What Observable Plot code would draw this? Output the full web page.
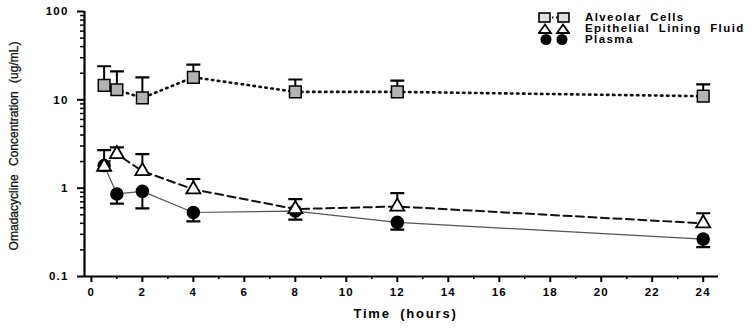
<!DOCTYPE html>
<html><head><meta charset="utf-8">
<script src="https://cdn.jsdelivr.net/npm/d3@7"></script>
<script src="https://cdn.jsdelivr.net/npm/@observablehq/plot@0.6"></script>
<style>
body{margin:0;background:#fff;}
#wrap{position:relative;width:755px;height:328px;font-family:"Liberation Sans",Arial,sans-serif;}
#legend{position:absolute;left:538px;top:12px;font-weight:bold;font-size:11.5px;letter-spacing:1.4px;word-spacing:4px;line-height:11px;}
#legend div{display:flex;align-items:center;height:11px;}
#legend svg{margin-right:15px;}
g[aria-label="y-axis tick label"] text, g[aria-label="x-axis tick label"] text{letter-spacing:1.2px;}
.ttl text{letter-spacing:1.8px;word-spacing:4px;}
.ylab text{word-spacing:5px;}
</style></head>
<body><div id="wrap"><div id="legend"></div></div>
<script>
const times = [0.5, 1, 2, 4, 8, 12, 24];
const alveolar = [14.6, 13, 10.5, 18, 12.3, 12.3, 11];
const alveolarUpper = [24, 21, 18, 25, 17, 16.5, 15];
const elf = [1.75, 2.43, 1.56, 0.97, 0.58, 0.62, 0.40];
const elfUpper = [2.7, 2.9, 2.43, 1.27, 0.75, 0.88, 0.52];
const plasma = [1.8, 0.86, 0.92, 0.53, 0.55, 0.41, 0.265];
const plasmaLower = [1.6, 0.67, 0.59, 0.42, 0.44, 0.34, 0.215];
const seriesNames = ["Alveolar Cells", "Epithelial Lining Fluid", "Plasma"];
const xTicks = [0, 2, 4, 6, 8, 10, 12, 14, 16, 18, 20, 22, 24];
const xMinor = [1, 3, 5, 7, 9, 11, 13, 15, 17, 19, 21, 23];
const yTicks = [0.1, 1, 10, 100];
const yMinor = [0.2,0.3,0.4,0.5,0.6,0.7,0.8,0.9,2,3,4,5,6,7,8,9,20,30,40,50,60,70,80,90];
const xDomain = [-0.27, 24.6];

const mk = (vals, extra, name) => times.map((t, i) => ({t, v: vals[i], e: extra[i], name}));
const alv = mk(alveolar, alveolarUpper, seriesNames[0]);
const el = mk(elf, elfUpper, seriesNames[1]);
const pl = mk(plasma, plasmaLower, seriesNames[2]);

const cap = {draw(ctx, size){ const w = 7; ctx.moveTo(-w, 0); ctx.lineTo(w, 0); ctx.closePath(); }};

const font = {fontFamily: "Liberation Sans, Arial, sans-serif", fontWeight: "bold", fontSize: 11.5};

const chart = Plot.plot({
  width: 755, height: 328,
  marginLeft: 84, marginRight: 37, marginTop: 11, marginBottom: 52,
  style: {fontFamily: "Liberation Sans, Arial, sans-serif", background: "white"},
  x: {domain: xDomain},
  y: {type: "log", domain: [yTicks[0], yTicks[yTicks.length-1]]},
  marks: [
    Plot.ruleY([yTicks[0]], {stroke: "black", strokeWidth: 2.2}),
    Plot.ruleX([xDomain[0]], {stroke: "black", strokeWidth: 2.2}),
    Plot.axisY({ticks: yTicks, tickSize: 7, tickPadding: 9, tickFormat: d => String(d), strokeWidth: 2, label: null, ...font}),
    Plot.axisY({ticks: yMinor, tickSize: 4, tickFormat: () => "", strokeWidth: 1.5, label: null}),
    Plot.axisX({ticks: xTicks, tickSize: 6, tickPadding: 5, strokeWidth: 2, label: null, ...font}),
    Plot.axisX({ticks: xMinor, tickSize: 3, tickFormat: () => "", strokeWidth: 1.5, label: null}),
    Plot.text(["Time (hours)"], {frameAnchor: "bottom", dy: 41, dx: 4, ...font, fontSize: 13, className: "ttl"}),
    Plot.text(["Omadacycline Concentration (ug/mL)"], {frameAnchor: "left", textAnchor: "middle", dx: -70, dy: 2, rotate: -90, fontFamily: "Liberation Sans, Arial, sans-serif", fontSize: 12, fill: "#111", stroke: "#111", strokeWidth: 0.3, className: "ylab"}),
    // lines
    Plot.line(alv, {x: "t", y: "v", stroke: "#111", strokeWidth: 2.6, strokeDasharray: "1.5,4.5", strokeLinecap: "round"}),
    Plot.line(el, {x: "t", y: "v", stroke: "#111", strokeWidth: 2, strokeDasharray: "8,4.5"}),
    Plot.line(pl, {x: "t", y: "v", stroke: "#555", strokeWidth: 1.2}),
    // error bars
    Plot.ruleX(alv, {x: "t", y1: "v", y2: "e", stroke: "black", strokeWidth: 2}),
    Plot.dot(alv, {x: "t", y: "e", symbol: cap, stroke: "black", strokeWidth: 2.2, fill: "none"}),
    Plot.ruleX(el, {x: "t", y1: "v", y2: "e", stroke: "black", strokeWidth: 2}),
    Plot.dot(el, {x: "t", y: "e", symbol: cap, stroke: "black", strokeWidth: 2.2, fill: "none"}),
    Plot.ruleX(pl, {x: "t", y1: "v", y2: "e", stroke: "black", strokeWidth: 2}),
    Plot.dot(pl, {x: "t", y: "e", symbol: cap, stroke: "black", strokeWidth: 2.2, fill: "none"}),
    // markers
    Plot.dot(pl, {x: "t", y: "v", symbol: "circle", r: 6, fill: "black", stroke: "black"}),
    Plot.dot(el, {x: "t", y: "v", symbol: "triangle", r: 5.2, fill: "white", stroke: "black", strokeWidth: 1.8}),
    Plot.dot(alv, {x: "t", y: "v", symbol: "square", r: 6.6, fill: "#b3b3b3", stroke: "black", strokeWidth: 1.5})
  ]
});
const wrap = document.getElementById("wrap");
wrap.insertBefore(chart, wrap.firstChild);

const sym = [
  `<svg width="32" height="11"><line x1="6" y1="5.5" x2="26" y2="5.5" stroke="#111" stroke-width="2" stroke-dasharray="1.5,2.5"/><rect x="1" y="1" width="11" height="9" fill="#e0e0e0" stroke="black" stroke-width="1.6"/><rect x="20" y="1" width="11" height="9" fill="#e0e0e0" stroke="black" stroke-width="1.6"/></svg>`,
  `<svg width="32" height="11"><path d="M7,1.5L13,10L1,10Z" fill="white" stroke="black" stroke-width="1.8"/><path d="M25,1.5L31,10L19,10Z" fill="white" stroke="black" stroke-width="1.8"/></svg>`,
  `<svg width="32" height="11"><circle cx="8" cy="5.5" r="5.5" fill="black"/><circle cx="24" cy="5.5" r="5.5" fill="black"/></svg>`
];
const leg = document.getElementById("legend");
seriesNames.forEach((n, i) => {
  const d = document.createElement("div");
  d.innerHTML = sym[i] + `<span>${n}</span>`;
  leg.appendChild(d);
});
</script></body></html>
